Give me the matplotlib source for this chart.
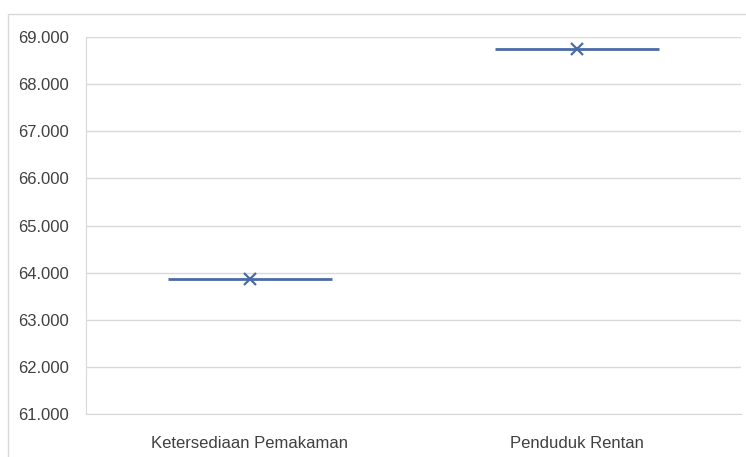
import matplotlib.pyplot as plt
from matplotlib.patches import Rectangle
from matplotlib.ticker import FuncFormatter

categories = ['Ketersediaan Pemakaman', 'Penduduk Rentan']
medians = [63870, 68740]
means = [63870, 68740]
y_ticks = [61000, 62000, 63000, 64000, 65000, 66000, 67000, 68000, 69000]

plt.rcParams['font.family'] = ['Liberation Sans', 'DejaVu Sans']

W, H = 746, 457
fig = plt.figure(figsize=(W / 100, H / 100), dpi=100)

# outer chart border (cropped on the right and bottom)
fig.patches.append(Rectangle((8 / W, -0.1), 2, 1 - 14 / H + 0.1,
                             transform=fig.transFigure, fill=False,
                             edgecolor='#d9d9d9', lw=1.0))

ax = fig.add_axes([86 / W, 1 - 414 / H, (741 - 86) / W, (414 - 37) / H])

color = '#4a6aa8'
pos = list(range(len(categories)))
half = 0.25
ax.hlines(medians, [p - half for p in pos], [p + half for p in pos],
          colors=color, lw=2.0, zorder=3)
ax.plot(pos, means, linestyle='none', marker='x', markersize=9,
        markeredgewidth=1.6, color=color, zorder=4)

ax.set_xlim(-0.5, len(categories) - 0.5)
ax.set_ylim(y_ticks[0], y_ticks[-1])
ax.set_yticks(y_ticks)
ax.yaxis.set_major_formatter(FuncFormatter(lambda v, _: f'{v:,.0f}'.replace(',', '.')))
ax.set_xticks(pos)
ax.set_xticklabels(categories)

ax.grid(axis='y', color='#d9d9d9', lw=1.0)
ax.set_axisbelow(True)
for s in ['top', 'right']:
    ax.spines[s].set_visible(False)
ax.spines['left'].set_color('#d9d9d9')
ax.spines['bottom'].set_color('#d9d9d9')
ax.tick_params(axis='both', length=0, labelsize=12, colors='#404040')
ax.tick_params(axis='y', pad=12)
ax.tick_params(axis='x', pad=16)

fig.savefig('out.png', dpi=100)
